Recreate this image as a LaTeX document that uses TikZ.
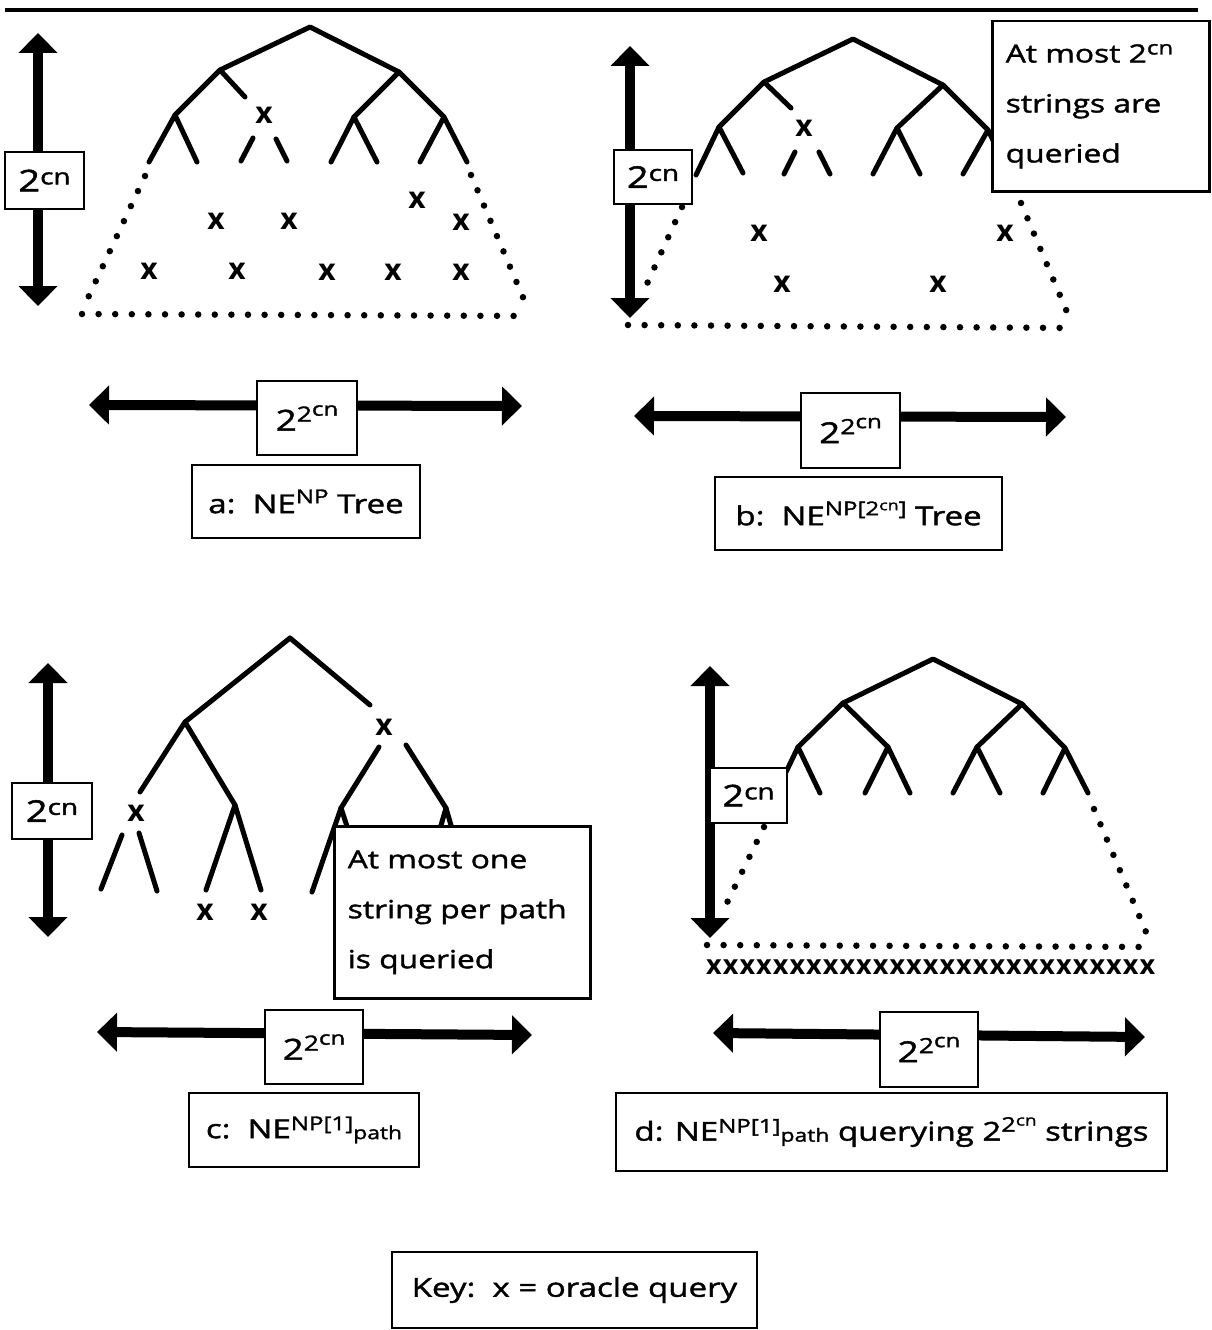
\documentclass[tikz,border=0pt]{standalone}
\usepackage{fontspec}
\setmainfont[FakeStretch=1.27, FakeBold=1.6]{Open Sans}
\newfontfamily\markfont{Open Sans}
\usetikzlibrary{arrows.meta}
% raised text: #1 = raise (pt), #2 = size (pt), #3 = text
\newcommand{\hiup}[3]{\raisebox{#1pt}{\fontsize{#2}{#2}\selectfont #3}}
\newcommand{\twocn}{{\fontsize{30}{30}\selectfont 2\hiup{7}{22}{cn}}}
\newcommand{\twotwocn}{{\fontsize{29}{29}\selectfont 2\hiup{9}{21}{2\hiup{6}{19}{cn}}}}
\begin{document}
\begin{tikzpicture}[x=1pt,y=-1pt,
  tree/.style={line width=5pt, line cap=round, line join=round},
  dots/.style={line width=6.5pt, line cap=round, dash pattern=on 0pt off 16.6pt},
  dimarrow/.style={line width=10pt, {Triangle[length=20pt,width=38pt]}-{Triangle[length=20pt,width=38pt]}},
  box/.style={draw, line width=2.5pt, fill=white, inner sep=0pt},
  lbl/.style={box, font=\fontsize{26}{30}\selectfont},
  note/.style={box, font=\fontsize{25}{50}\selectfont, align=left, inner xsep=13.5pt, anchor=north west},
  qx/.style={font=\markfont\fontsize{30}{30}\selectfont\bfseries, inner sep=0pt}]
\useasboundingbox (0,0) rectangle (1212,1330);
\draw[line width=3.5pt] (5,10) -- (1198,10);

% ---------------- (a) NE^NP tree ----------------
\coordinate (a0) at (310,27);
\coordinate (a1) at (220,70);   \coordinate (a2) at (399,72);
\coordinate (a11) at (175,115); \coordinate (a12) at (245,97);
\coordinate (a21) at (354,117); \coordinate (a22) at (444,117);
\draw[tree] (149,162) -- (a11) -- (197,162);
\draw[tree] (a11) -- (a1) -- (a0) -- (a2) -- (a21) -- (331,162);
\draw[tree] (a21) -- (377,162);
\draw[tree] (a2) -- (a22) -- (420,162);
\draw[tree] (a22) -- (467,162);
\draw[tree] (a1) -- (a12);
\draw[tree] (241,161) -- (253,138);
\draw[tree] (276,139) -- (287,161);
\draw[dots] (145,176) -- (87,300);
\draw[dots] (82,314) -- (530,316);
\draw[dots] (471,175) -- (525,302);
\foreach \p [count=\i] in {(264,115),(216,221),(289,221),(417,200),(461,222),
    (149,271),(237,271),(327,272),(393,272),(461,272)}
  \node[qx] (ax\i) at \p {x};
\coordinate (aVt) at (38,33);  \coordinate (aVb) at (38,306);
\draw[dimarrow] (aVt) -- (aVb);
\node[box, minimum width=79pt, minimum height=57pt] (aV) at (44.5,180.5) {\twocn};
\coordinate (aHl) at (89,405); \coordinate (aHr) at (522,406);
\draw[dimarrow] (aHl) -- (aHr);
\node[box, minimum width=100pt, minimum height=74pt] (aH) at (307,418) {\twotwocn};
\node[lbl, minimum width=228pt, minimum height=73pt] (aL) at (306,501.5)
  {a:\ \ NE\hiup{10}{19}{NP} Tree};

% ---------------- (b) NE^NP[2^cn] tree ----------------
\coordinate (b0) at (853,39);
\coordinate (b1) at (764,82);   \coordinate (b2) at (943,85);
\coordinate (b11) at (719,127); \coordinate (b12) at (791,108);
\coordinate (b21) at (897,128); \coordinate (b22) at (988,130);
\draw[tree] (696,175) -- (b11) -- (743,173);
\draw[tree] (b11) -- (b1) -- (b0) -- (b2) -- (b21) -- (873,174);
\draw[tree] (b21) -- (920,174);
\draw[tree] (b2) -- (b22) -- (963,174);
\draw[tree] (b22) -- (1010,175);
\draw[tree] (b1) -- (b12);
\draw[tree] (784,174) -- (795,152);
\draw[tree] (819,152) -- (830,174);
\draw[dots] (682,207) -- (641,297);
\draw[dots] (628,325) -- (1074,328);
\draw[dots] (1021,203) -- (1067,312);
\foreach \p [count=\i] in {(804,128),(759,233),(1005,233),(782,284),(938,284)}
  \node[qx] (bx\i) at \p {x};
\coordinate (bVt) at (630,46);  \coordinate (bVb) at (630,318);
\draw[dimarrow] (bVt) -- (bVb);
\node[box, minimum width=78pt, minimum height=54pt] (bV) at (653,177) {\twocn};
\node[note, text width=190pt, minimum height=170pt] (bN) at (991,20)
  {At most 2\hiup{8}{19}{cn}\\strings are\\queried};
\coordinate (bHl) at (634,416); \coordinate (bHr) at (1066,417);
\draw[dimarrow] (bHl) -- (bHr);
\node[box, minimum width=99pt, minimum height=75pt] (bH) at (850.5,430.5) {\twotwocn};
\node[lbl, minimum width=287pt, minimum height=73pt] (bL) at (858.5,513.5)
  {b:\ \ NE\hiup{10}{19}{NP[2\hiup{5}{14}{cn}]} Tree};

% ---------------- (c) NE^NP[1]_path ----------------
\coordinate (c0) at (290,638);
\coordinate (c1) at (185,722);  \coordinate (c2) at (370,705);
\coordinate (c11) at (140,792); \coordinate (c12) at (235,805);
\coordinate (c21) at (341,808); \coordinate (c22) at (446,808);
\draw[tree] (c0) -- (c2);
\draw[tree] (c0) -- (c1) -- (c11);
\draw[tree] (c1) -- (c12) -- (206,890);
\draw[tree] (c12) -- (261,890);
\draw[tree] (122,835) -- (101,889);
\draw[tree] (139,833) -- (157,891);
\draw[tree] (379,747) -- (c21) -- (312,892);
\draw[tree] (c21) -- (368,890);
\draw[tree] (406,745) -- (c22) -- (428,870);
\draw[tree] (c22) -- (464,870);
\foreach \p [count=\i] in {(384,727),(136,813),(205,912),(259,912)}
  \node[qx] (cx\i) at \p {x};
\coordinate (cVt) at (48,663);  \coordinate (cVb) at (48,937);
\draw[dimarrow] (cVt) -- (cVb);
\node[box, minimum width=80pt, minimum height=56pt] (cV) at (52,811) {\twocn};
\node[note, text width=229pt, minimum height=172pt] (cN) at (333,825)
  {At most one\\string per path\\is queried};
\coordinate (cHl) at (97,1032); \coordinate (cHr) at (532,1035);
\draw[dimarrow] (cHl) -- (cHr);
\node[box, minimum width=98pt, minimum height=74pt] (cH) at (314,1047) {\twotwocn};
\node[lbl, minimum width=230pt, minimum height=74pt] (cL) at (304,1130)
  {c:\ \ NE\hiup{8}{19}{NP[1]}\hiup{-1}{18}{path}};

% ---------------- (d) NE^NP[1]_path querying 2^2^cn strings ----------------
\coordinate (d0) at (933,659);
\coordinate (d1) at (843,703);  \coordinate (d2) at (1022,704);
\coordinate (d11) at (798,747); \coordinate (d12) at (888,747);
\coordinate (d21) at (977,747); \coordinate (d22) at (1065,748);
\draw[tree] (776,793) -- (d11) -- (820,793);
\draw[tree] (d11) -- (d1) -- (d0) -- (d2) -- (d21) -- (953,793);
\draw[tree] (d21) -- (1000,793);
\draw[tree] (d1) -- (d12) -- (865,793);
\draw[tree] (d12) -- (910,793);
\draw[tree] (d2) -- (d22) -- (1043,793);
\draw[tree] (d22) -- (1088,793);
\draw[dots] (764,827) -- (721,915);
\draw[dots] (707,945) -- (1154,947);
\draw[dots] (1094,809) -- (1146,932);
\node[qx, font=\markfont\fontsize{27}{27}\selectfont\bfseries, anchor=west] (dxrow) at (706,967)
  {\hbox to 449pt{x\hfil x\hfil x\hfil x\hfil x\hfil x\hfil x\hfil x\hfil x\hfil
   x\hfil x\hfil x\hfil x\hfil x\hfil x\hfil x\hfil x\hfil x\hfil x\hfil x\hfil
   x\hfil x\hfil x\hfil x\hfil x\hfil x\hfil x}};
\coordinate (dVt) at (710,666);  \coordinate (dVb) at (710,938);
\draw[dimarrow] (dVt) -- (dVb);
\node[box, minimum width=77pt, minimum height=55pt] (dV) at (748.5,795.5) {\twocn};
\coordinate (dHl) at (713,1033); \coordinate (dHr) at (1145,1037);
\draw[dimarrow] (dHl) -- (dHr);
\node[box, minimum width=98pt, minimum height=75pt] (dH) at (929,1049.5) {\twotwocn};
\node[lbl, minimum width=551pt, minimum height=78pt] (dL) at (891.5,1132)
  {d: NE\hiup{8}{19}{NP[1]}\hiup{-1}{18}{path} querying 2\hiup{9}{20}{2\hiup{6}{15}{cn}} strings};

% ---------------- key ----------------
\node[lbl, minimum width=365pt, minimum height=76pt] (key) at (574.5,1290)
  {Key:\ \ x = oracle query};
\end{tikzpicture}
\end{document}
